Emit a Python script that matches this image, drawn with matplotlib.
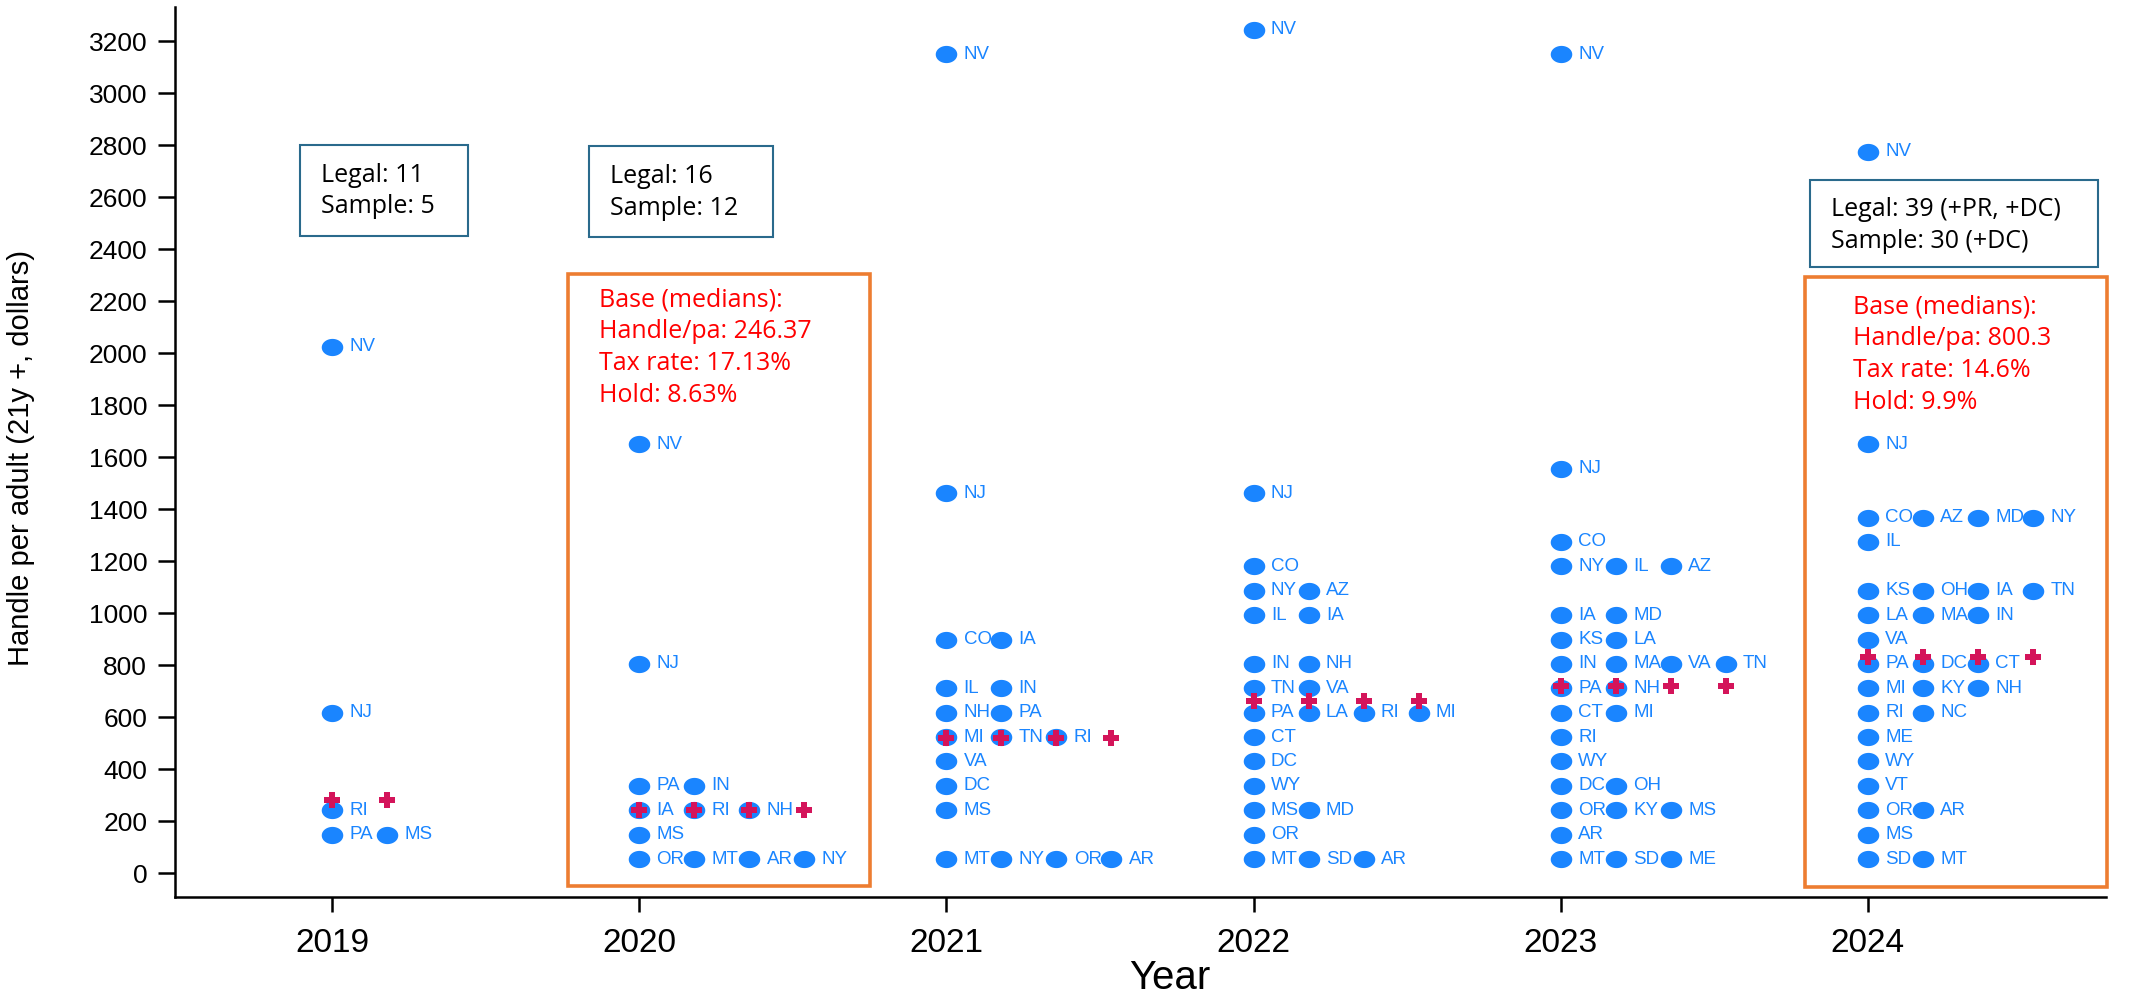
import numpy as np
import matplotlib
matplotlib.use("Agg")
import matplotlib.pyplot as plt
from matplotlib.path import Path
from matplotlib.patches import Rectangle

# data: handle per adult (21y+) by state, binned as in the dot plot
years = [2019, 2020, 2021, 2022, 2023, 2024]

states_2019 = ["NV", "NJ", "RI", "PA", "MS"]
vals_2019 = [2025, 618, 243, 149, 149]

states_2020 = ["NV", "NJ", "PA", "IN", "IA", "RI", "NH", "MS", "OR", "MT", "AR", "NY"]
vals_2020 = [1650, 805, 336, 336, 243, 243, 243, 149, 55, 55, 55, 55]

states_2021 = ["NV", "NJ", "CO", "IA", "IL", "IN", "NH", "PA", "MI", "TN", "RI",
               "VA", "DC", "MS", "MT", "NY", "OR", "AR"]
vals_2021 = [3150, 1462, 899, 899, 712, 712, 618, 618, 524, 524, 524,
             430, 336, 243, 55, 55, 55, 55]

states_2022 = ["NV", "NJ", "CO", "NY", "AZ", "IL", "IA", "IN", "NH", "TN", "VA",
               "PA", "LA", "RI", "MI", "CT", "DC", "WY", "MS", "MD", "OR",
               "MT", "SD", "AR"]
vals_2022 = [3244, 1462, 1181, 1087, 1087, 993, 993, 805, 805, 712, 712,
             618, 618, 618, 618, 524, 430, 336, 243, 243, 149,
             55, 55, 55]

states_2023 = ["NV", "NJ", "CO", "NY", "IL", "AZ", "IA", "MD", "KS", "LA",
               "IN", "MA", "VA", "TN", "PA", "NH", "CT", "MI", "RI", "WY",
               "DC", "OH", "OR", "KY", "MS", "AR", "MT", "SD", "ME"]
vals_2023 = [3150, 1556, 1274, 1181, 1181, 1181, 993, 993, 899, 899,
             805, 805, 805, 805, 712, 712, 618, 618, 524, 430,
             336, 336, 243, 243, 243, 149, 55, 55, 55]

states_2024 = ["NV", "NJ", "CO", "AZ", "MD", "NY", "IL", "KS", "OH", "IA", "TN",
               "LA", "MA", "IN", "VA", "PA", "DC", "CT", "MI", "KY", "NH",
               "RI", "NC", "ME", "WY", "VT", "OR", "AR", "MS", "SD", "MT"]
vals_2024 = [2775, 1650, 1368, 1368, 1368, 1368, 1274, 1087, 1087, 1087, 1087,
             993, 993, 993, 899, 805, 805, 805, 712, 712, 712,
             618, 618, 524, 430, 336, 243, 243, 149, 55, 55]

medians = [282, 244, 520, 663, 720, 832]

all_states = [states_2019, states_2020, states_2021, states_2022, states_2023, states_2024]
all_vals = [vals_2019, vals_2020, vals_2021, vals_2022, vals_2023, vals_2024]

blue = "#1A85FF"
crimson = "#D4145A"
step = 0.179  # horizontal spacing of stacked dots (in years)

# slightly wide ellipse marker like the original
t = np.linspace(0, 2 * np.pi, 60)
ellipse = Path(np.column_stack([np.cos(t), 0.8 * np.sin(t)]), closed=True)

fig = plt.figure(figsize=(21.44, 9.97), dpi=100)
ax = fig.add_axes([175 / 2144, 100 / 997, 1931 / 2144, 890 / 997])

for yr, sts, vs in zip(years, all_states, all_vals):
    counts = {}
    xs = []
    for v in vs:
        c = counts.get(v, 0)
        xs.append(yr + c * step)
        counts[v] = c + 1
    ax.scatter(xs, vs, s=15.5 ** 2, marker=ellipse, color=blue, linewidths=0, zorder=3)
    for x, v, s in zip(xs, vs, sts):
        ax.annotate(s, (x, v), xytext=(12.5, 0), textcoords="offset points",
                    ha="left", va="center", fontsize=13.5, color=blue,
                    family="Liberation Sans")
    ncol = max(counts.values())
    mx = [yr + i * step for i in range(ncol)]
    ax.scatter(mx, [medians[years.index(yr)]] * ncol, s=11.5 ** 2, marker="P",
               color=crimson, linewidths=0, zorder=4)

ax.set_xlim(2018.489, 2024.775)
ax.set_ylim(-91, 3331)
ax.set_xticks(years)
ax.set_yticks(range(0, 3201, 200))
for side in ["top", "right"]:
    ax.spines[side].set_visible(False)
for side in ["left", "bottom"]:
    ax.spines[side].set_linewidth(1.8)
ax.tick_params(axis="y", length=12, width=1.8, pad=8, labelsize=19)
ax.tick_params(axis="x", length=11, width=1.8, pad=11, labelsize=24)
for lab in ax.get_xticklabels() + ax.get_yticklabels():
    lab.set_family("Liberation Sans")

ax.set_ylabel("Handle per adult (21y +, dollars)", fontsize=21, family="Liberation Sans")
ax.yaxis.set_label_coords(-0.0725, 0.493)
fig.text(1170 / 2144, 1 - 978 / 997, "Year", fontsize=29, family="Liberation Sans",
         ha="center", va="center")


def px(x, y):
    return x / 2144, 1 - y / 997


def box(x0, y0, x1, y1, color, lw):
    fig.patches.append(Rectangle(px(x0, y1), (x1 - x0) / 2144, (y1 - y0) / 997,
                                 transform=fig.transFigure, fill=False,
                                 edgecolor=color, linewidth=lw, zorder=5))


def lines(x, baselines, texts, color):
    for b, s in zip(baselines, texts):
        fig.text(*px(x, b), s, fontsize=18, color=color, family="Open Sans",
                 ha="left", va="baseline")


box_blue = "#2A6A8C"
orange = "#ED7D31"

box(300, 145, 468, 236, box_blue, 1.5)
lines(321, [182, 213], ["Legal: 11", "Sample: 5"], "black")

box(589, 146, 773, 237, box_blue, 1.5)
lines(610, [183, 215], ["Legal: 16", "Sample: 12"], "black")

box(1810, 180, 2098, 267, box_blue, 1.5)
lines(1831, [216, 248], ["Legal: 39 (+PR, +DC)", "Sample: 30 (+DC)"], "black")

box(568, 274, 870, 886, orange, 2.6)
lines(599, [306, 338, 370, 402],
      ["Base (medians):", "Handle/pa: 246.37", "Tax rate: 17.13%", "Hold: 8.63%"], "red")

box(1805, 277, 2107, 887, orange, 2.6)
lines(1853, [313, 345, 377, 409],
      ["Base (medians):", "Handle/pa: 800.3", "Tax rate: 14.6%", "Hold: 9.9%"], "red")

plt.savefig("out.png", dpi=100)
